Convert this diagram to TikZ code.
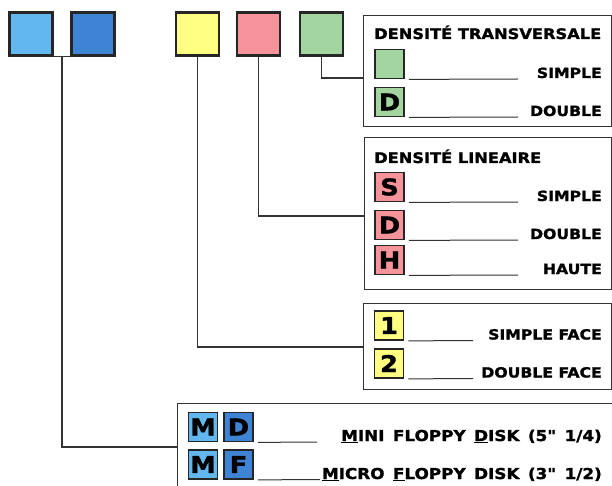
\documentclass[tikz,border=0pt]{standalone}
\usepackage{fontspec}
\setmainfont{DejaVu Sans}[Ligatures=TeXOff, FakeStretch=1.12, BoldFeatures={FakeBold=1.5}]
\usetikzlibrary{positioning,calc}
\definecolor{miniblue}{HTML}{62B8EE}
\definecolor{microblue}{HTML}{3F84D4}
\definecolor{faceyellow}{HTML}{FFFF82}
\definecolor{linred}{HTML}{F6929A}
\definecolor{trgreen}{HTML}{A2D5A0}
\newcommand\WideSpace{\spaceskip=8.5pt\relax}
\tikzset{%
    topsq/.style={draw=black!85, line width=2.2pt, minimum size=43pt, inner sep=0pt},
    keysq/.style={draw=black!85, line width=1.8pt, minimum size=29pt, inner sep=0pt,
        font=\bfseries\fontsize{23}{23}\selectfont},
    panel/.style={draw=black!80, line width=1.4pt, anchor=north west, inner sep=0pt},
    rowline/.style={draw=black!80, line width=1pt},
    link/.style={draw=black!80, line width=1.2pt},
    keylabel/.style={font=\bfseries\fontsize{14}{14}\selectfont, inner sep=0pt, anchor=base east},
    disklabel/.style={keylabel, font=\bfseries\fontsize{15}{15}\selectfont\WideSpace},
    heading/.style={font=\bfseries\fontsize{14.5}{14.5}\selectfont, inner sep=0pt, anchor=base west}
}
% #1 name, #2 x, #3 y, #4 colour, #5 letter, #6 end of line, #7 label
\newcommand\KeyRow[7]{%
    \node[keysq, fill=#4] (#1) at (#2,#3) {#5};
    \draw[rowline] ([xshift=4pt]#1.south east) -- (#6,#3+15);
    \node[keylabel] (#1-txt) at (602,#3+14) {#7}
}

\begin{document}
\begin{tikzpicture}[x=1pt,y=-1pt]
    \useasboundingbox (0,0) rectangle (612,486);

    % panels
    \node[panel, minimum width=248pt, minimum height=111pt] (trans) at (363,15) {};
    \node[panel, minimum width=247pt, minimum height=152pt] (lin) at (364,137) {};
    \node[panel, minimum width=248pt, minimum height=86pt] (face) at (363,303) {};
    \node[panel, minimum width=450pt, minimum height=100pt] (disk) at (177,403) {};

    % top squares
    \node[topsq, fill=miniblue] (mini) at (31,34) {};
    \node[topsq, fill=microblue] (micro) at (93,34) {};
    \node[topsq, fill=faceyellow] (yel) at (197.5,34) {};
    \node[topsq, fill=linred] (red) at (258.5,34) {};
    \node[topsq, fill=trgreen] (grn) at (321.5,34) {};

    % connectors
    \coordinate (miniJ) at ($(mini.south east)!0.5!(micro.south west)$);
    \draw[link] (mini.south east) -- (micro.south west);
    \draw[link] (miniJ) |- ([yshift=-44pt]disk.north west);
    \draw[link] (yel.south) |- ([yshift=-44pt]face.north west);
    \draw[link] (red.south) |- ([yshift=-79pt]lin.north west);
    \draw[link] (grn.south) |- ([yshift=-63pt]trans.north west);

    % densite transversale
    \node[heading] (transT) at (374,39) {DENSITÉ TRANSVERSALE};
    \KeyRow{trS}{389.5}{64}{trgreen}{}{518}{SIMPLE};
    \KeyRow{trD}{389.5}{102}{trgreen}{D}{518}{DOUBLE};

    % densite lineaire
    \node[heading] (linT) at (374,163) {DENSITÉ LINEAIRE};
    \KeyRow{linS}{389.5}{187}{linred}{S}{518}{SIMPLE};
    \KeyRow{linD}{389.5}{225}{linred}{D}{518}{DOUBLE};
    \KeyRow{linH}{389.5}{260}{linred}{H}{518}{HAUTE};

    % faces
    \KeyRow{faceS}{389}{325.5}{faceyellow}{1}{473}{SIMPLE FACE};
    \KeyRow{faceD}{389}{363.5}{faceyellow}{2}{473}{DOUBLE FACE};

    % disk size
    \node[keysq, fill=miniblue] (mdM) at (203,427) {M};
    \node[keysq, fill=microblue] (mdD) at (238.5,427) {D};
    \draw[rowline] ([xshift=4pt]mdD.south east) -- (317,442);
    \node[disklabel] (mdT) at (602,441) {\underline{M}INI FLOPPY \underline{D}ISK (5" 1/4)};
    \node[keysq, fill=miniblue] (mfM) at (203,464.5) {M};
    \node[keysq, fill=microblue] (mfF) at (238.5,464.5) {F};
    \draw[rowline] ([xshift=4pt]mfF.south east) -- (320,479.5);
    \node[disklabel] (mfT) at (602,479) {\underline{M}ICRO \underline{F}LOPPY DISK (3" 1/2)};
\end{tikzpicture}
\end{document}
